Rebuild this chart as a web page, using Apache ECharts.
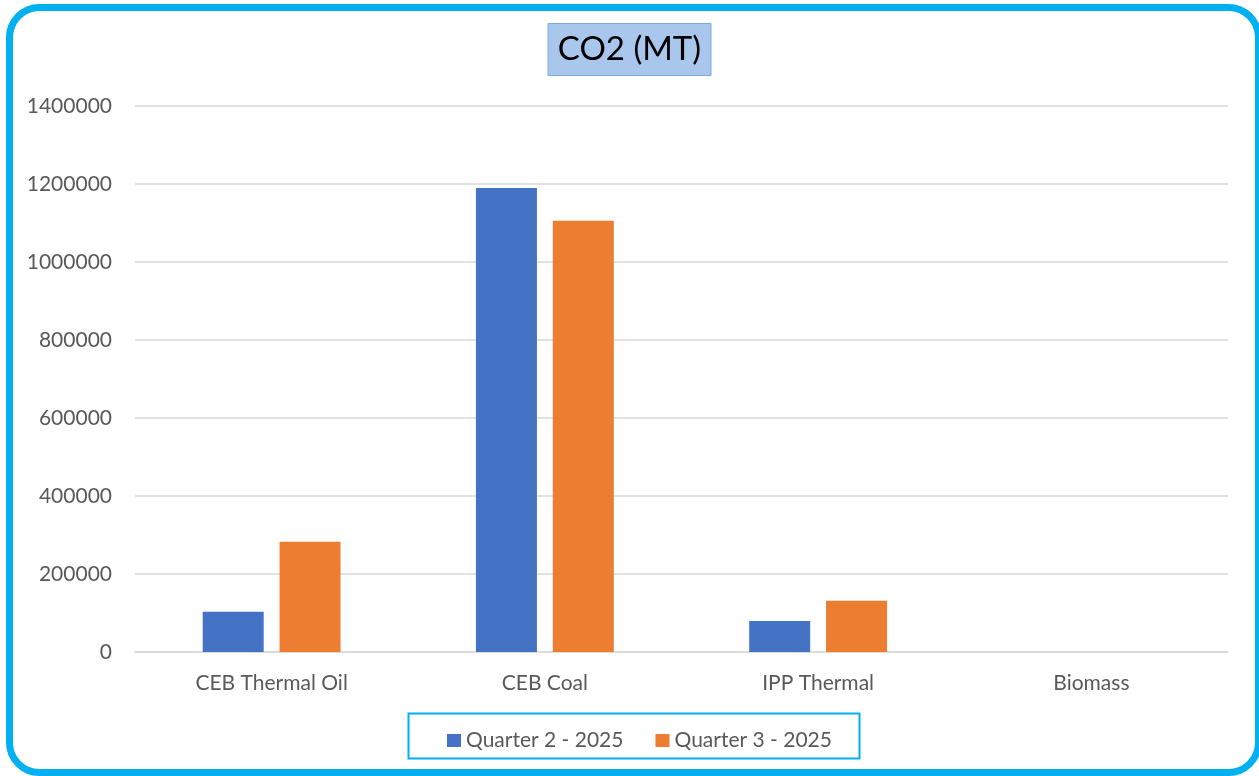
<!DOCTYPE html>
<html>
<head>
<meta charset="utf-8">
<title>CO2 (MT)</title>
<script src="https://cdn.jsdelivr.net/npm/echarts@6/dist/echarts.min.js"></script>
<style>
  html, body { margin: 0; padding: 0; background: #fff; }
  #chart { width: 1259px; height: 776px; }
</style>
</head>
<body>
<div id="chart"></div>
<script>
// data
var categories = ['CEB Thermal Oil', 'CEB Coal', 'IPP Thermal', 'Biomass']
var seriesNames = ['Quarter 2 - 2025', 'Quarter 3 - 2025']
var q2Values = [103000, 1190000, 79500, 0]
var q3Values = [283000, 1106000, 131500, 0]

var labelColor = '#595959'
var font = 'Lato, "Open Sans", sans-serif'

var chart = echarts.init(document.getElementById('chart'))
chart.setOption({
  backgroundColor: '#fff',
  animation: false,
  textStyle: { fontFamily: font },
  // outer rounded frame + legend frame
  graphic: [
    {
      type: 'rect',
      z: -10,
      shape: { x: 9.5, y: 7.5, width: 1249, height: 765, r: 30 },
      style: { fill: '#fff', stroke: '#00B0F0', lineWidth: 7 }
    },
    {
      type: 'rect',
      z: -5,
      shape: { x: 408.5, y: 713.5, width: 451, height: 45 },
      style: { fill: 'none', stroke: '#00B0F0', lineWidth: 2 }
    }
  ],
  title: {
    text: 'CO2 (MT)',
    left: 'center',
    top: 23,
    backgroundColor: '#A9C6EC',
    borderColor: '#7FAAD9',
    borderWidth: 1,
    padding: [10, 10, 10, 10],
    textStyle: {
      color: '#000',
      fontSize: 33,
      fontWeight: 'normal',
      fontFamily: font
    }
  },
  legend: {
    data: seriesNames,
    left: 442,
    top: 725,
    icon: 'rect',
    itemWidth: 14,
    itemHeight: 13,
    itemGap: 32,
    textStyle: { color: labelColor, fontSize: 21, fontFamily: font }
  },
  grid: {
    left: 135,
    right: 31,
    top: 106,
    bottom: 124
  },
  xAxis: {
    type: 'category',
    data: categories,
    axisLine: { lineStyle: { color: '#D9D9D9', width: 1.5 } },
    axisTick: { show: false },
    axisLabel: { color: labelColor, fontSize: 21, margin: 21, fontFamily: font }
  },
  yAxis: {
    type: 'value',
    min: 0,
    max: 1400000,
    interval: 200000,
    axisLine: { show: false },
    axisTick: { show: false },
    axisLabel: {
      color: labelColor,
      fontSize: 21,
      margin: 23,
      fontFamily: font,
      formatter: function (v) { return String(v) }
    },
    splitLine: { lineStyle: { color: '#D9D9D9', width: 1.5 } }
  },
  series: [
    {
      name: seriesNames[0],
      type: 'bar',
      data: q2Values,
      barWidth: 61,
      barGap: '26%',
      itemStyle: { color: '#4472C4' }
    },
    {
      name: seriesNames[1],
      type: 'bar',
      data: q3Values,
      barWidth: 61,
      barGap: '26%',
      itemStyle: { color: '#ED7D31' }
    }
  ]
})
</script>
</body>
</html>
